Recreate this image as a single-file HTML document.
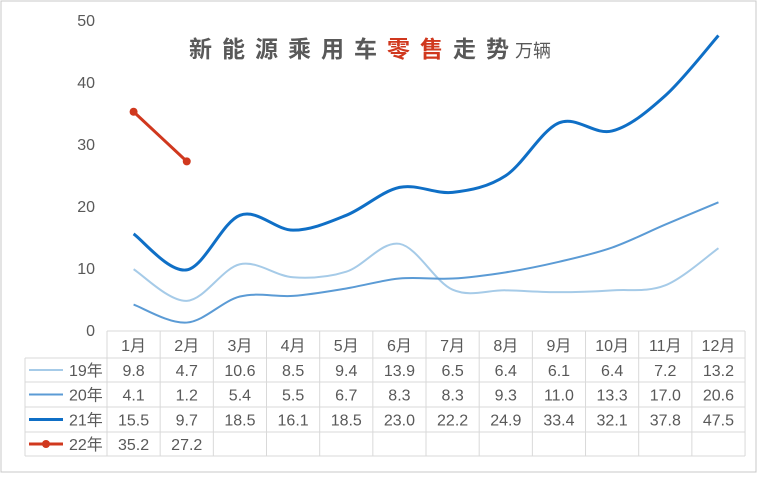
<!DOCTYPE html>
<html><head><meta charset="utf-8"><style>
body{margin:0;background:#fff}
text{font-family:"Liberation Sans","Noto Sans CJK SC",sans-serif}
</style></head><body>
<svg id="c" width="758" height="474" viewBox="0 0 758 474" xmlns="http://www.w3.org/2000/svg">
<rect x="1" y="1" width="755" height="471" fill="#fff" stroke="#c8c8c8"/>
<text x="189" y="57" font-size="23" font-weight="bold" fill="#595959" letter-spacing="10">新能源乘用车<tspan fill="#d0381e">零售</tspan>走势<tspan font-size="18" font-weight="normal" letter-spacing="0" dx="-4">万辆</tspan></text>
<g id="axis"></g><g id="lines"></g><g id="table"></g>
</svg>
<script>
const months=["1月","2月","3月","4月","5月","6月","7月","8月","9月","10月","11月","12月"];
const s19=[9.8,4.7,10.6,8.5,9.4,13.9,6.5,6.4,6.1,6.4,7.2,13.2];
const s20=[4.1,1.2,5.4,5.5,6.7,8.3,8.3,9.3,11.0,13.3,17.0,20.6];
const s21=[15.5,9.7,18.5,16.1,18.5,23.0,22.2,24.9,33.4,32.1,37.8,47.5];
const s22=[35.2,27.2];
const seriesNames=["19年","20年","21年","22年"];
const yTicks=[0,10,20,30,40,50];
const NS="http://www.w3.org/2000/svg";
const x0=107,cw=53.17,yBase=330,yTop=20,yMax=50;
const xs=i=>x0+cw*(i+0.5);
const ys=v=>yBase-(v/yMax)*(yBase-yTop);
function mk(tag,attrs,parent){const e=document.createElementNS(NS,tag);for(const k in attrs)e.setAttribute(k,attrs[k]);parent.appendChild(e);return e;}
const ax=document.getElementById('axis');
yTicks.forEach(t=>{const e=mk('text',{x:95,y:ys(t)+6,'text-anchor':'end','font-size':16,fill:'#595959'},ax);


e.textContent=t;});
function path(arr){const p=arr.map((v,i)=>[xs(i),ys(v)]);let d=`M${p[0][0]},${p[0][1]}`;
for(let i=0;i<p.length-1;i++){const a=p[i-1]||p[i],b=p[i],c=p[i+1],e=p[i+2]||c;const t=6;
d+=` C${b[0]+(c[0]-a[0])/t},${b[1]+(c[1]-a[1])/t} ${c[0]-(e[0]-b[0])/t},${c[1]-(e[1]-b[1])/t} ${c[0]},${c[1]}`;}return d;}
const L=document.getElementById('lines');
const styles=[["#a6cbe8",2,s19],["#5b9bd5",2,s20],["#0f6fc6",3,s21]];
styles.forEach((s,k)=>{const e=mk('path',{d:path(s[2]),fill:'none',stroke:s[0],'stroke-width':s[1]},L);

});
const r=mk('path',{d:path(s22),fill:'none',stroke:'#d0381e','stroke-width':3},L);


s22.forEach((v,i)=>{const c=mk('circle',{cx:xs(i),cy:ys(v),r:4,fill:'#d0381e'},L);

});
const T=document.getElementById('table');
const rowY=[331,358,382,407,432,456];
const g='#d9d9d9';
mk('line',{x1:x0,y1:331,x2:745,y2:331,stroke:g},T);
for(let r=1;r<rowY.length;r++)mk('line',{x1:25,y1:rowY[r],x2:745,y2:rowY[r],stroke:g},T);
for(let i=0;i<=12;i++)mk('line',{x1:x0+cw*i,y1:331,x2:x0+cw*i,y2:456,stroke:g},T);
mk('line',{x1:25,y1:358,x2:25,y2:456,stroke:g},T);
months.forEach((m,i)=>{const e=mk('text',{x:xs(i),y:351,'text-anchor':'middle','font-size':16,fill:'#595959'},T);


e.textContent=m;});
const all=[s19,s20,s21,s22];const cols=["#a6cbe8","#5b9bd5","#0f6fc6","#d0381e"];const wd=[2,2,3,3];
all.forEach((arr,r)=>{const cy=(rowY[r+1]+rowY[r+2])/2;
mk('line',{x1:29,y1:cy,x2:63,y2:cy,stroke:cols[r],'stroke-width':wd[r]},T);
if(r==3)mk('circle',{cx:46,cy:cy,r:4,fill:cols[r]},T);
const n=mk('text',{x:69,y:cy+6,'font-size':16,fill:'#595959'},T);


n.textContent=seriesNames[r];
arr.forEach((v,i)=>{const e=mk('text',{x:xs(i),y:cy+6,'text-anchor':'middle','font-size':16,fill:'#595959'},T);


e.textContent=v.toFixed(1);});});
</script>
</body></html>
